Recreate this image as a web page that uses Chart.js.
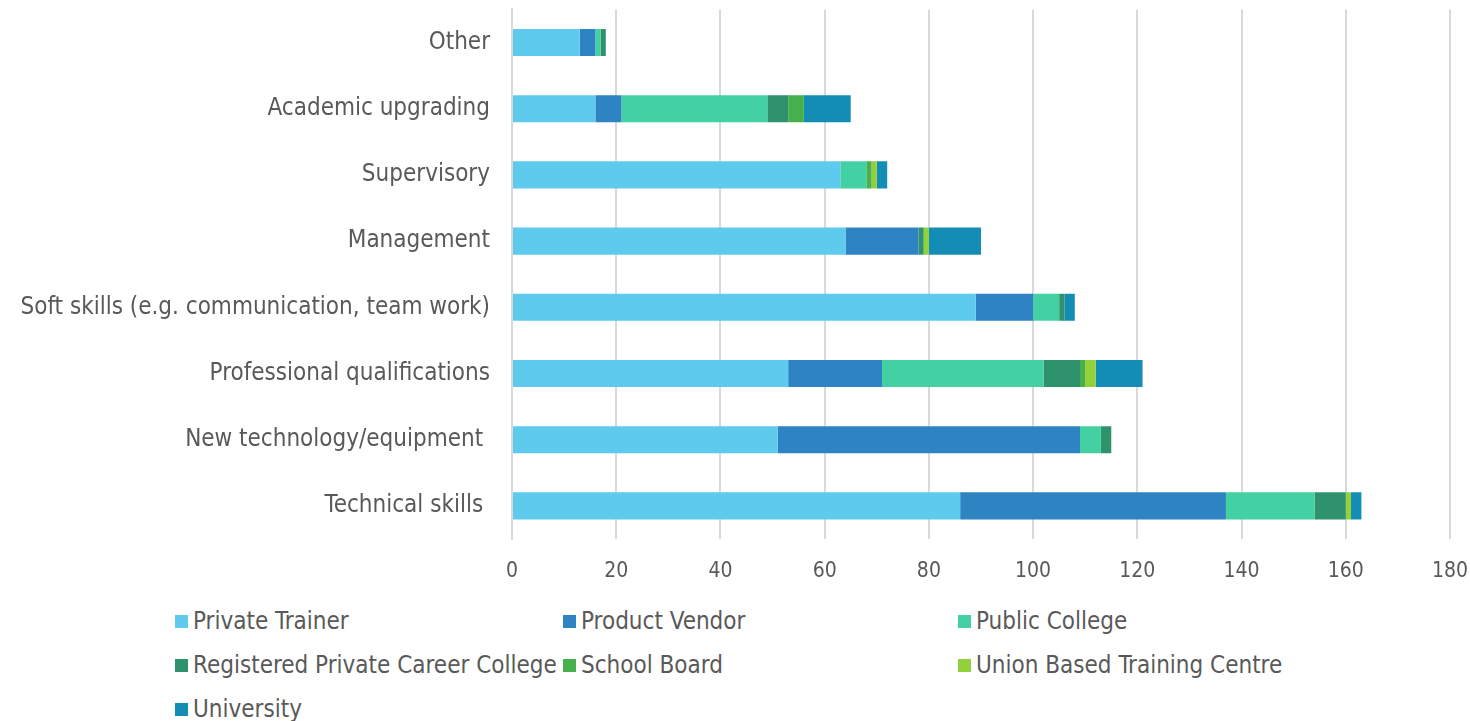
<!DOCTYPE html>
<html>
<head>
<meta charset="utf-8">
<script src="https://cdn.jsdelivr.net/npm/chart.js@4.4.1/dist/chart.umd.min.js"></script>
<style>
  body { margin: 0; background: #fff; font-family: "DejaVu Sans Condensed", "DejaVu Sans", sans-serif; }
  #wrap { position: absolute; left: 0; top: -27px; width: 1470px; height: 622px; }
  #legend { position: absolute; left: 175px; top: 607px; display: grid;
            grid-template-columns: 388px 395px 320px; row-gap: 16px; }
  .item { display: flex; align-items: center; font-size: 24px; color: #595959; height: 28px; white-space: nowrap; }
  .box { width: 13px; height: 13px; margin-right: 5px; flex: none; }
</style>
</head>
<body>
<div id="wrap"><canvas id="chart"></canvas></div>
<div id="legend"></div>
<script>
// ============ DATA ============
const categories = [
  "Other",
  "Academic upgrading",
  "Supervisory",
  "Management",
  "Soft skills (e.g. communication, team work)",
  "Professional qualifications",
  "New technology/equipment ",
  "Technical skills "
];

const privateTrainer   = [13, 16, 63, 64, 89, 53, 51, 86];
const productVendor    = [3, 5, 0, 14, 11, 18, 58, 51];
const publicCollege    = [1, 28, 5, 0, 5, 31, 4, 17];
const registeredCollege = [1, 4, 0, 1, 1, 7, 2, 6];
const schoolBoard      = [0, 3, 1, 0, 0, 1, 0, 0];
const unionCentre      = [0, 0, 1, 1, 0, 2, 0, 1];
const university       = [0, 9, 2, 10, 2, 9, 0, 2];

const xTicks = [0, 20, 40, 60, 80, 100, 120, 140, 160, 180];

const series = [
  { label: "Private Trainer", data: privateTrainer, color: "#5ecbee" },
  { label: "Product Vendor", data: productVendor, color: "#2e83c3" },
  { label: "Public College", data: publicCollege, color: "#43d0a2" },
  { label: "Registered Private Career College", data: registeredCollege, color: "#2e936c" },
  { label: "School Board", data: schoolBoard, color: "#47b04d" },
  { label: "Union Based Training Centre", data: unionCentre, color: "#93d13c" },
  { label: "University", data: university, color: "#138db5" }
];

// ============ CHART ============
const ctx = document.getElementById("chart").getContext("2d");
const fontFamily = "'DejaVu Sans Condensed', 'DejaVu Sans', sans-serif";

const datasets = series.map(s => ({
  label: s.label,
  data: s.data,
  backgroundColor: s.color,
  borderWidth: 0,
  categoryPercentage: 1,
  barPercentage: 0.41
}));

new Chart(ctx, {
  type: "bar",
  data: { labels: categories, datasets },
  options: {
    indexAxis: "y",
    responsive: true,
    maintainAspectRatio: false,
    animation: false,
    layout: { padding: { top: 9, right: 0, left: 0, bottom: 0 } },
    plugins: {
      legend: { display: false },
      tooltip: { enabled: false }
    },
    scales: {
      x: {
        stacked: true,
        min: 0,
        max: 180,
        afterBuildTicks: scale => { scale.ticks = xTicks.map(v => ({ value: v })); },
        afterFit: scale => {
          scale.height = 56;
          scale.paddingRight = 20;
          scale.paddingLeft = 0;
        },
        grid: { color: "#d9d9d9", lineWidth: 2, drawTicks: false },
        border: { display: false },
        ticks: { color: "#595959", font: { size: 21, family: fontFamily }, padding: 20 }
      },
      y: {
        stacked: true,
        afterFit: scale => { scale.width = 512; },
        grid: { display: false, drawTicks: false },
        border: { display: true, color: "#d9d9d9", width: 2 },
        ticks: { color: "#595959", font: { size: 24, family: fontFamily }, padding: 22 }
      }
    }
  }
});

// ============ LEGEND ============
const legend = document.getElementById("legend");
series.forEach(s => {
  legend.innerHTML += `<div class="item"><span class="box" style="background:${s.color}"></span>${s.label}</div>`;
});
</script>
</body>
</html>
